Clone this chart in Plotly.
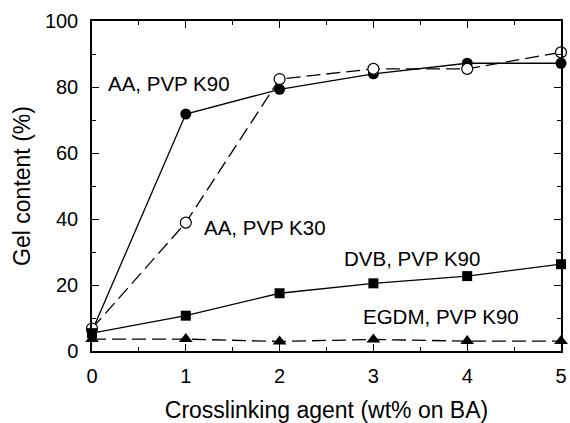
import plotly.graph_objects as go

# Crosslinking agent content (wt% on BA)
x_vals = [0, 1, 2, 3, 4, 5]

# Gel content (%) for each crosslinker / PVP grade
aa_k90 = [6.0, 71.8, 79.3, 84.0, 87.2, 87.2]
aa_k30 = [6.8, 38.9, 82.4, 85.5, 85.5, 90.5]
dvb_k90 = [5.4, 10.7, 17.5, 20.5, 22.7, 26.3]
egdm_k90 = [3.6, 3.6, 2.9, 3.5, 3.0, 3.0]

series_labels = ["AA, PVP K90", "AA, PVP K30", "DVB, PVP K90", "EGDM, PVP K90"]
label_pos = [(0.15, 81.2), (1.17, 37.3), (2.67, 27.9), (2.87, 10.6)]

FONT = "Liberation Sans, Arial, Helvetica, sans-serif"
DASH = "14px,6px"

fig = go.Figure()

fig.add_trace(go.Scatter(
    x=x_vals, y=aa_k90, mode="lines+markers", cliponaxis=False,
    line=dict(color="black", width=1.3),
    marker=dict(symbol="circle", size=11, color="black"),
))
fig.add_trace(go.Scatter(
    x=x_vals, y=aa_k30, mode="lines+markers", cliponaxis=False,
    line=dict(color="black", width=1.3, dash=DASH),
    marker=dict(symbol="circle", size=11, color="white",
                line=dict(color="black", width=1.2)),
))
fig.add_trace(go.Scatter(
    x=x_vals, y=dvb_k90, mode="lines+markers", cliponaxis=False,
    line=dict(color="black", width=1.3),
    marker=dict(symbol="square", size=10, color="black"),
))
fig.add_trace(go.Scatter(
    x=x_vals, y=egdm_k90, mode="lines+markers", cliponaxis=False,
    line=dict(color="black", width=1.3, dash=DASH),
    marker=dict(symbol="triangle-up", size=12, color="black"),
))

for text, (lx, ly) in zip(series_labels, label_pos):
    fig.add_annotation(x=lx, y=ly, text=text, showarrow=False,
                       xanchor="left", yanchor="middle",
                       font=dict(family=FONT, size=20.5, color="black"))

axis_common = dict(
    showgrid=False, zeroline=False, showline=True, linecolor="black",
    linewidth=1.5, mirror="ticks", ticks="inside", tickcolor="black",
    tickwidth=1.2, ticklen=7, automargin=False,
    tickfont=dict(family=FONT, size=20, color="black"),
)

fig.update_xaxes(
    **axis_common, range=[0, 5], dtick=1, tick0=0, ticklabelstandoff=6,
    minor=dict(ticks="inside", ticklen=4, dtick=0.5, tick0=0,
               tickcolor="black", tickwidth=1.2, showgrid=False),
    title=dict(text="Crosslinking agent (wt% on BA)", standoff=18,
               font=dict(family=FONT, size=23, color="black")),
)
fig.update_yaxes(
    **axis_common, range=[0, 100], dtick=20, tick0=0, ticklabelstandoff=8,
    minor=dict(ticks="inside", ticklen=4, dtick=10, tick0=0,
               tickcolor="black", tickwidth=1.2, showgrid=False),
    title=dict(text="Gel content (%)", standoff=8,
               font=dict(family=FONT, size=23, color="black")),
)

fig.update_layout(
    width=570, height=423,
    margin=dict(l=92, r=9, t=21, b=72),
    paper_bgcolor="white", plot_bgcolor="white",
    showlegend=False,
)

fig.write_html("out.html")
